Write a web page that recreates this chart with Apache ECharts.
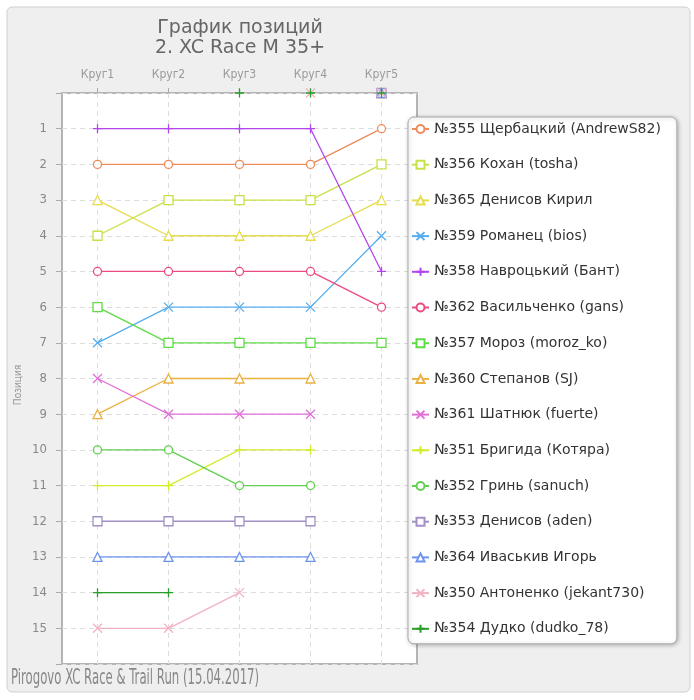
<!DOCTYPE html>
<html><head><meta charset="utf-8">
<script src="https://cdn.jsdelivr.net/npm/echarts@6/dist/echarts.min.js"></script>
<style>html,body{margin:0;padding:0;background:#fff}#c{width:694px;height:700px}</style>
</head><body><div id="c"></div>
<script>
const laps = ['Круг1','Круг2','Круг3','Круг4','Круг5'];
const names = [
 '№355 Щербацкий (AndrewS82)','№356 Кохан (tosha)','№365 Денисов Кирил','№359 Романец (bios)',
 '№358 Навроцький (Бант)','№362 Васильченко (gans)','№357 Мороз (moroz_ko)','№360 Степанов (SJ)',
 '№361 Шатнюк (fuerte)','№351 Бригида (Котяра)','№352 Гринь (sanuch)','№353 Денисов (aden)',
 '№364 Иваськив Игорь','№350 Антоненко (jekant730)','№354 Дудко (dudko_78)'
];
// 0 = lap not completed (drawn on the top edge)
const pos355 = [2,2,2,2,1];
const pos356 = [4,3,3,3,2];
const pos365 = [3,4,4,4,3];
const pos359 = [7,6,6,6,4];
const pos358 = [1,1,1,1,5];
const pos362 = [5,5,5,5,6];
const pos357 = [6,7,7,7,7];
const pos360 = [9,8,8,8,0];
const pos361 = [8,9,9,9,0];
const pos351 = [11,11,10,10,0];
const pos352 = [10,10,11,11,0];
const pos353 = [12,12,12,12,0];
const pos364 = [13,13,13,13,0];
const pos350 = [15,15,14,0,0];
const pos354 = [14,14,0,0,0];
const positions = [pos355,pos356,pos365,pos359,pos358,pos362,pos357,pos360,pos361,pos351,pos352,pos353,pos364,pos350,pos354];
const colors = ['#f08a5b','#c6e24a','#e6dc4c','#56aef0','#b444ec','#ec4a82','#5edc46','#eab040','#e070d8','#d4ec2a','#62d050','#a290c6','#6e92f0','#f2b2c4','#2a9e2a'];
const PLUS = 'path://M5,0L5,10M0,5L10,5';
const CROSS = 'path://M0,0L10,10M10,0L0,10';
const symbolCycle = ['circle','rect','triangle',CROSS,PLUS];

const chart = echarts.init(document.getElementById('c'), null, {renderer:'canvas'});
const lineSeries = [], zeroSeries = [];
names.forEach((n,i)=>{
  const sym = symbolCycle[i%5];
  const size = (sym==='circle'?8:9);
  const base = {
    name:n, symbol:sym, symbolSize:size,
    itemStyle:{color:'#fff', borderColor:colors[i], borderWidth:1.3, opacity:1},
    lineStyle:{color:colors[i], width:1.3},
    emphasis:{disabled:true}, animation:false
  };
  lineSeries.push(Object.assign({}, base, {
    type:'line', showAllSymbol:true, connectNulls:false,
    data: positions[i].map(v=> v===0 ? null : v)
  }));
  zeroSeries.push(Object.assign({}, base, {
    type:'scatter', clip:false, z:5,
    data: positions[i].map((v,k)=> v===0 ? [k,0] : null).filter(d=>d)
  }));
});

chart.setOption({
  animation:false,
  graphic:[
    {type:'rect', shape:{x:7,y:7,width:683,height:685,r:5}, style:{fill:'#efefef', stroke:'#cfcfcf', lineWidth:1}, z:-10, silent:true},
    {type:'text', x:11, y:668, scaleX:0.62, style:{text:'Pirogovo XC Race & Trail Run (15.04.2017)', font:'21px "DejaVu Sans Condensed"', fill:'#888'}, z:10},
    {type:'text', x:18, y:385, rotation:Math.PI/2, style:{text:'Позиция', font:'10px "DejaVu Sans Condensed"', fill:'#999', align:'center', verticalAlign:'middle'}, z:10}
  ],
  title:{text:'График позиций\n2. XC Race M 35+', left:235, top:13, textAlign:'center',
    textStyle:{fontFamily:'DejaVu Sans', fontSize:19, fontWeight:'normal', color:'#666', lineHeight:20}},
  grid:{left:62, top:93, width:355, height:571, show:true, backgroundColor:'#fff', borderColor:'#b4b4b4', borderWidth:2},
  xAxis:{type:'category', data:laps, position:'top', boundaryGap:true,
    axisLine:{show:false},
    axisTick:{show:true, alignWithLabel:true, length:5, lineStyle:{color:'#aaa'}},
    axisLabel:{color:'#999', fontFamily:'DejaVu Sans Condensed', fontSize:12, margin:12},
    splitLine:{show:true, alignWithLabel:true, lineStyle:{color:'#ddd', type:[5,4]}}},
  yAxis:{type:'value', inverse:true, min:0, max:16, interval:1,
    axisLine:{show:false},
    axisTick:{show:true, length:6, lineStyle:{color:'#aaa'}},
    axisLabel:{color:'#888', fontFamily:'DejaVu Sans Condensed', fontSize:13, margin:15,
      formatter:v=> (v<1||v>15)?'':String(v)},
    splitLine:{show:true, lineStyle:{color:'#ddd', type:[5,4]}}},
  legend:{data:names, orient:'vertical', left:408, top:117,
    padding:[3,16,6,3], itemWidth:17, itemHeight:10, itemGap:17.7,
    backgroundColor:'#fff', borderColor:'#aaa', borderWidth:1, borderRadius:6,
    shadowBlur:4, shadowColor:'rgba(0,0,0,0.25)', shadowOffsetX:1, shadowOffsetY:1,
    textStyle:{fontFamily:'DejaVu Sans', fontSize:14, color:'#333', lineHeight:18},
    selectedMode:false},
  series: lineSeries.concat(zeroSeries)
});
</script></body></html>
